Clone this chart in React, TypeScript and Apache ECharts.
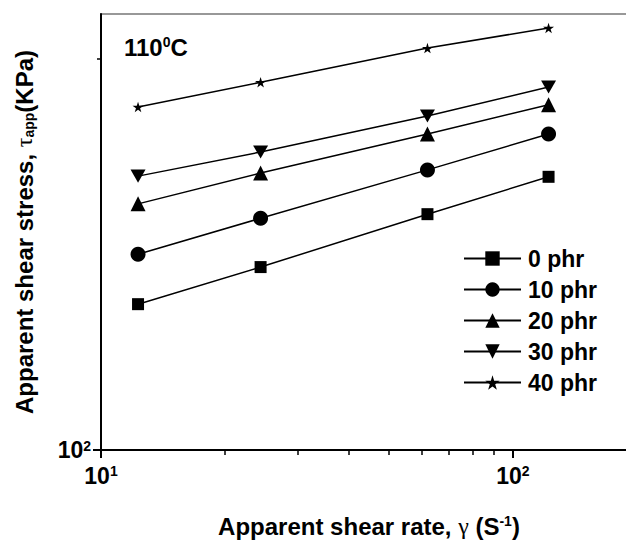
import React, { useEffect, useRef } from "react";
import * as echarts from "echarts";

const shearRate = [12.3, 24.4, 62, 122];
const phr0 = [129.5, 138.3, 151.9, 162.3];
const phr10 = [141.5, 150.8, 164.3, 175.1];
const phr20 = [154.7, 163.4, 175.1, 184.4];
const phr30 = [162.5, 169.6, 180.8, 190.3];
const phr40 = [183.7, 191.9, 203.9, 211.3];
const seriesNames = ["0 phr", "10 phr", "20 phr", "30 phr", "40 phr"];
const xMajorTicks = [10, 100];
const xMinorTicks = [20, 30, 40, 50, 60, 70, 80, 90, 200];
const yMajorTicks = [100];
const yMinorTicks = [200];

const FONT = "'Liberation Sans', Arial, Helvetica, sans-serif";
const SERIF = "'Liberation Serif', 'DejaVu Serif', serif";

const STAR =
  "path://M50,0 L61,35 L98,35 L68,57 L79,91 L50,70 L21,91 L32,57 L2,35 L39,35 Z";
const DOWN_TRI = "path://M0,0 L100,0 L50,87 Z";

const symbols = ["rect", "circle", "triangle", DOWN_TRI, STAR];
const symbolSizes = [12, 15, 15, 15, 11];

export default function App() {
  const ref = useRef<HTMLDivElement>(null);
  useEffect(() => {
    if (!ref.current) return;
    const chart = echarts.init(ref.current, undefined, { renderer: "svg" });
    const all = [phr0, phr10, phr20, phr30, phr40];
    const supRich = {
      b: { fontSize: 23, fontWeight: "bold", fontFamily: FONT, color: "#000" },
      s: {
        fontSize: 14,
        fontWeight: "bold",
        fontFamily: FONT,
        color: "#000",
        verticalAlign: "top",
      },
    };
    const fmt = (v: number) => `{b|10}{s|${Math.round(Math.log10(v))}}`;
    const option: any = {
      animation: false,
      backgroundColor: "#fff",
      grid: {
        left: 101,
        top: 14,
        height: 436,
        width: 536,
        show: true,
        borderColor: "#777",
        borderWidth: 1.5,
        containLabel: false,
        outerBoundsMode: "none",
      },
      legend: {
        orient: "vertical",
        left: 463,
        top: 247,
        padding: 0,
        itemWidth: 57,
        itemHeight: 18,
        itemGap: 8,
        data: seriesNames,
        textStyle: {
          fontSize: 23,
          fontWeight: "bold",
          fontFamily: FONT,
          color: "#000",
          padding: [0, 0, 0, 2],
        },
      },
      xAxis: [
        {
          type: "log",
          logBase: 10,
          min: 10,
          max: 200,
          position: "bottom",
          axisLine: { show: true, lineStyle: { color: "#000", width: 2 } },
          axisTick: {
            show: true,
            inside: false,
            length: 8,
            customValues: xMajorTicks,
            lineStyle: { color: "#000", width: 2 },
          },
          axisLabel: {
            show: true,
            margin: 14,
            customValues: xMajorTicks,
            formatter: fmt,
            rich: supRich,
          },
          splitLine: { show: false },
          minorTick: { show: false },
          name: "Apparent shear rate, {g|γ} (S{s|-1})",
          nameLocation: "middle",
          nameGap: 64,
          nameTextStyle: {
            fontSize: 24,
            fontWeight: "bold",
            fontFamily: FONT,
            color: "#000",
            rich: {
              g: { fontSize: 24, fontFamily: SERIF, fontWeight: "normal", color: "#000" },
              s: {
                fontSize: 14,
                fontWeight: "bold",
                fontFamily: FONT,
                color: "#000",
                verticalAlign: "top",
              },
            },
          },
        },
        {
          type: "log",
          logBase: 10,
          min: 10,
          max: 200,
          position: "bottom",
          axisLine: { show: false },
          axisTick: {
            show: true,
            inside: false,
            length: 5,
            customValues: xMinorTicks,
            lineStyle: { color: "#000", width: 1.5 },
          },
          axisLabel: { show: false },
          splitLine: { show: false },
        },
      ],
      yAxis: [
        {
          type: "log",
          logBase: 10,
          min: 100,
          max: 216.6,
          position: "left",
          axisLine: { show: true, lineStyle: { color: "#000", width: 2 } },
          axisTick: {
            show: true,
            inside: false,
            length: 8,
            customValues: yMajorTicks,
            lineStyle: { color: "#000", width: 2 },
          },
          axisLabel: {
            show: true,
            margin: 10,
            customValues: yMajorTicks,
            formatter: fmt,
            rich: supRich,
          },
          splitLine: { show: false },
          minorTick: { show: false },
          name: "Apparent shear stress, {t|τ}{sub|app}(KPa)",
          nameLocation: "middle",
          nameRotate: 90,
          nameGap: 65,
          nameTextStyle: {
            fontSize: 24,
            fontWeight: "bold",
            fontFamily: FONT,
            color: "#000",
            rich: {
              t: { fontSize: 24, fontFamily: SERIF, fontWeight: "normal", color: "#000" },
              sub: {
                fontSize: 14,
                fontWeight: "bold",
                fontFamily: FONT,
                color: "#000",
                verticalAlign: "bottom",
              },
            },
          },
        },
        {
          type: "log",
          logBase: 10,
          min: 100,
          max: 216.6,
          position: "left",
          axisLine: { show: false },
          axisTick: {
            show: true,
            inside: false,
            length: 4,
            customValues: yMinorTicks,
            lineStyle: { color: "#000", width: 1.5 },
          },
          axisLabel: { show: false },
          splitLine: { show: false },
        },
      ],
      graphic: [
        {
          type: "text",
          left: 124,
          top: 35,
          style: {
            text: "{a|110}{s|0}{a|C}",
            rich: {
              a: { fontSize: 24, fontWeight: "bold", fontFamily: FONT, fill: "#000" },
              s: {
                fontSize: 14,
                fontWeight: "bold",
                fontFamily: FONT,
                fill: "#000",
                verticalAlign: "top",
              },
            },
          },
        },
      ],
      series: seriesNames.map((name, i) => ({
        name,
        type: "line",
        xAxisIndex: 0,
        yAxisIndex: 0,
        data: shearRate.map((x, j) => [x, all[i][j]]),
        symbol: symbols[i],
        symbolSize: symbolSizes[i],
        symbolKeepAspect: true,
        showAllSymbol: true,
        color: "#000",
        itemStyle: { color: "#000", borderWidth: 0 },
        lineStyle: { color: "#000", width: 1.5 },
        emphasis: { disabled: true },
      })),
    };
    chart.setOption(option);
    return () => chart.dispose();
  }, []);
  return (
    <div
      ref={ref}
      style={{ position: "absolute", left: 0, top: 0, width: 626, height: 541 }}
    />
  );
}
